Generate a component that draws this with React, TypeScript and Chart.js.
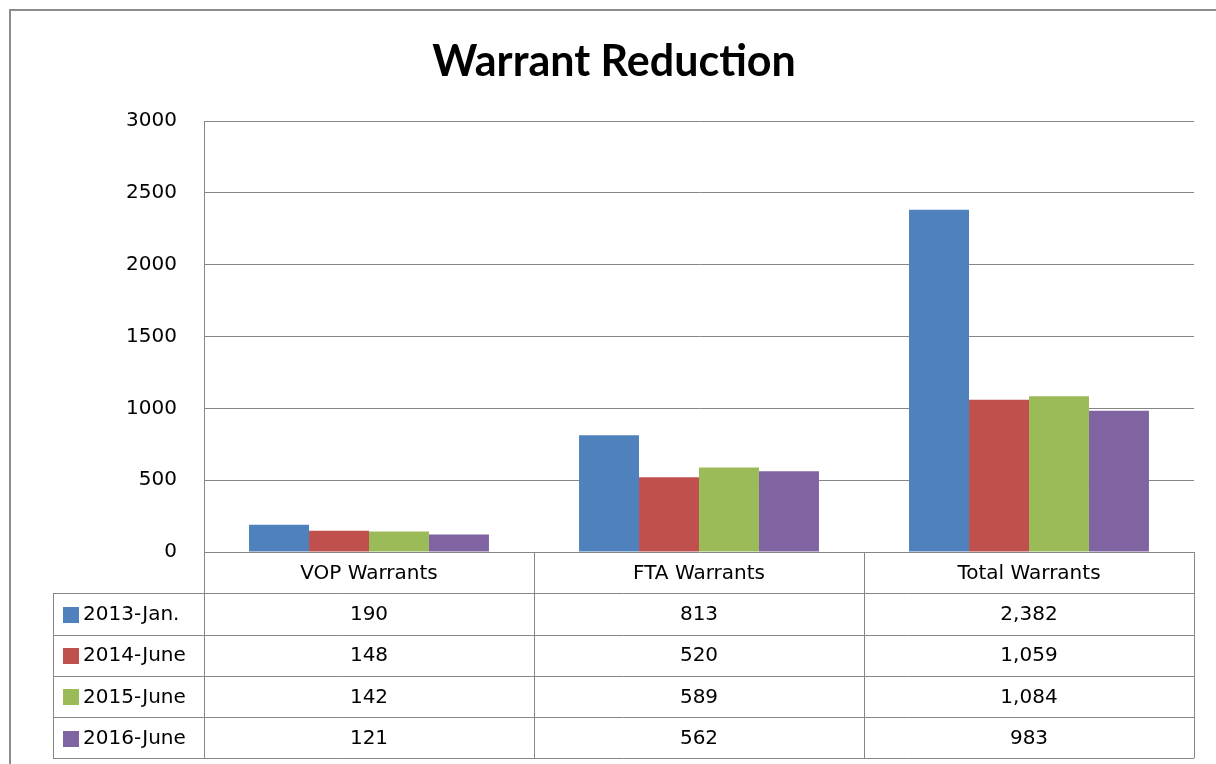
import React, { useEffect, useRef } from "react";
import { Chart, registerables } from "chart.js";

Chart.register(...registerables);

const title = "Warrant Reduction";
const categories = ["VOP Warrants", "FTA Warrants", "Total Warrants"];
const seriesLabels = ["2013-Jan.", "2014-June", "2015-June", "2016-June"];
const jan2013 = [190, 813, 2382];
const june2014 = [148, 520, 1059];
const june2015 = [142, 589, 1084];
const june2016 = [121, 562, 983];
const seriesColors = ["#4F81BD", "#C0504D", "#9BBB59", "#8064A2"];
const yMin = 0;
const yMax = 3000;
const yStep = 500;

const seriesValues = [jan2013, june2014, june2015, june2016];

const GRID = "#868686";
const TEXT_FONT = "DejaVu Sans";

const tablePlugin = {
  id: "dataTable",
  afterDraw(chart: any) {
    const ctx = chart.ctx as CanvasRenderingContext2D;
    const { left, right, bottom } = chart.chartArea;
    const xs = chart.scales.x;
    const n = categories.length;
    const colW = (right - left) / n;
    const rowH = 41.25;
    const rows = seriesLabels.length + 1;
    const tableLeft = 53;
    const tableBottom = bottom + rowH * rows;
    const px = (v: number) => Math.round(v) + 0.5;

    ctx.save();
    // outer frame
    ctx.strokeStyle = "#8c8c8c";
    ctx.lineWidth = 2;
    ctx.beginPath();
    ctx.moveTo(10, 764);
    ctx.lineTo(10, 10);
    ctx.lineTo(1216, 10);
    ctx.stroke();

    // title
    ctx.fillStyle = "#000";
    ctx.font = "bold 43px Lato";
    ctx.textAlign = "center";
    ctx.textBaseline = "middle";
    ctx.fillText(title, 614, 62);

    // table lines
    ctx.strokeStyle = GRID;
    ctx.lineWidth = 1;
    ctx.beginPath();
    for (let r = 1; r <= rows; r++) {
      const y = px(bottom + r * rowH);
      ctx.moveTo(tableLeft, y);
      ctx.lineTo(right, y);
    }
    ctx.moveTo(px(tableLeft), bottom + rowH);
    ctx.lineTo(px(tableLeft), tableBottom);
    for (let c = 0; c <= n; c++) {
      const x = px(left + c * colW);
      ctx.moveTo(x, c === 0 ? chart.chartArea.top : bottom);
      ctx.lineTo(x, tableBottom);
    }
    ctx.stroke();

    // header
    ctx.fillStyle = "#000";
    ctx.font = `20px '${TEXT_FONT}'`;
    ctx.textAlign = "center";
    ctx.textBaseline = "middle";
    categories.forEach((cat, i) => {
      ctx.fillText(cat, xs.getPixelForValue(i), bottom + rowH / 2 + 1);
    });

    // rows
    seriesLabels.forEach((lab, r) => {
      const cy = bottom + rowH * (r + 1) + rowH / 2 + 1;
      ctx.fillStyle = seriesColors[r];
      ctx.fillRect(63, Math.round(cy - 8), 16, 16);
      ctx.fillStyle = "#000";
      ctx.textAlign = "left";
      ctx.fillText(lab, 83, cy);
      ctx.textAlign = "center";
      seriesValues[r].forEach((v, i) => {
        ctx.fillText(v.toLocaleString("en-US"), xs.getPixelForValue(i), cy);
      });
    });
    ctx.restore();
  },
};

export default function App() {
  const ref = useRef<HTMLCanvasElement | null>(null);

  useEffect(() => {
    if (!ref.current) return;
    const chart = new Chart(ref.current, {
      type: "bar",
      data: {
        labels: categories,
        datasets: seriesLabels.map((lab, i) => ({
          label: lab,
          data: seriesValues[i],
          backgroundColor: seriesColors[i],
          borderWidth: 0,
          categoryPercentage: 0.727,
          barPercentage: 1,
        })),
      },
      options: {
        responsive: false,
        animation: false,
        layout: { padding: { left: 0, top: 121, right: 22, bottom: 212 } },
        plugins: {
          legend: { display: false },
          title: { display: false },
          tooltip: { enabled: false },
        },
        scales: {
          x: { display: false },
          y: {
            min: yMin,
            max: yMax,
            ticks: {
              stepSize: yStep,
              color: "#000",
              padding: 27,
              font: { family: TEXT_FONT, size: 20 },
              callback: (v: any) => String(v),
            },
            grid: { color: GRID, drawTicks: false },
            border: { display: true, color: GRID },
            afterFit: (scale: any) => {
              scale.width = 204;
            },
          },
        },
      },
      plugins: [tablePlugin],
    });
    return () => chart.destroy();
  }, []);

  return (
    <div style={{ position: "fixed", left: 0, top: 0, width: 1216, height: 764, background: "#fff" }}>
      <canvas ref={ref} width={1216} height={764} style={{ display: "block" }} />
    </div>
  );
}
